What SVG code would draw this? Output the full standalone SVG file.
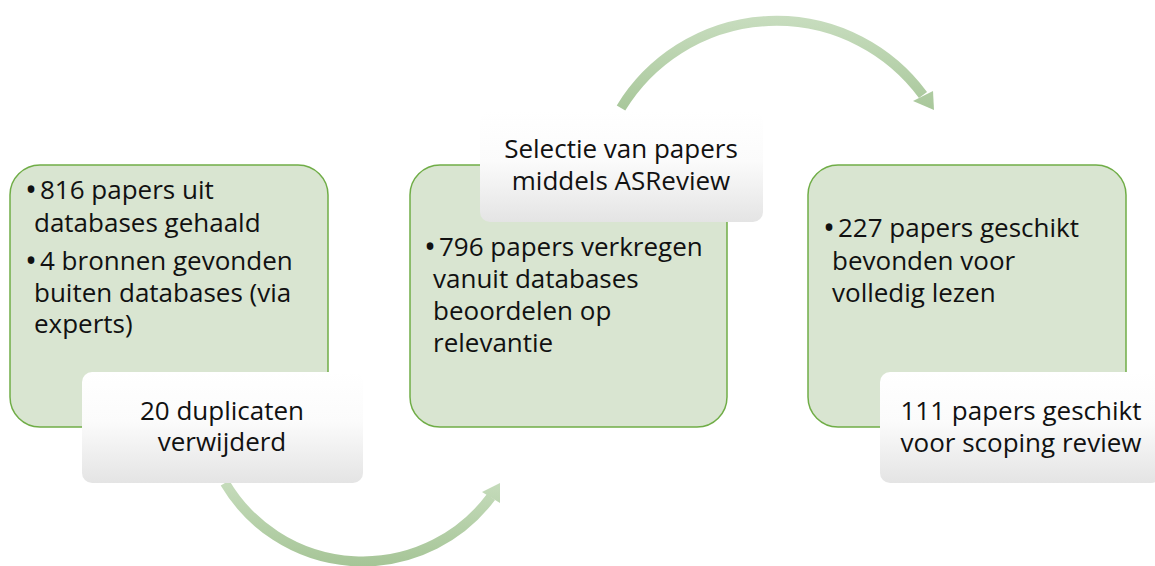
<svg xmlns="http://www.w3.org/2000/svg" width="1155" height="566" viewBox="0 0 1155 566">
<style>
.box{fill:#d9e5d1;stroke:#70ad47;stroke-width:1.5}
.lbl{fill:url(#wg)}
text{font-family:"Open Sans","Liberation Sans",sans-serif;font-size:26px;fill:#111}
.b{font-size:32px}
.c{text-anchor:middle}
</style>
<defs>
<linearGradient id="wg" x1="0" y1="0" x2="0" y2="1">
<stop offset="0" stop-color="#ffffff"/>
<stop offset="0.45" stop-color="#fbfbfb"/>
<stop offset="1" stop-color="#e4e4e4"/>
</linearGradient>
<linearGradient id="ag1" gradientUnits="userSpaceOnUse" x1="0" y1="15" x2="0" y2="112">
<stop offset="0" stop-color="#c8ddbf"/>
<stop offset="1" stop-color="#a8c79a"/>
</linearGradient>
<linearGradient id="ag2" gradientUnits="userSpaceOnUse" x1="0" y1="480" x2="0" y2="566">
<stop offset="0" stop-color="#c6dcbc"/>
<stop offset="1" stop-color="#a6c597"/>
</linearGradient>
</defs>
<g id="connectors">
<g id="arrow-top">
<path d="M 621 108 A 182 182 0 0 1 923 95" fill="none" stroke="url(#ag1)" stroke-width="10"/>
<polygon points="913,101 933,91 934,110" fill="url(#ag1)"/>
</g>
<g id="arrow-bottom">
<path d="M 225 483 A 160 160 0 0 0 491 497" fill="none" stroke="url(#ag2)" stroke-width="10"/>
<polygon points="482,492 500,483 500,503" fill="url(#ag2)"/>
</g>
</g>
<g id="node1">
<rect class="box" x="10" y="165" width="318" height="262" rx="30"/>
<text class="b" x="25" y="201">•</text>
<text x="40" y="199">816 papers uit</text>
<text x="34" y="232">databases gehaald</text>
<text class="b" x="25" y="272">•</text>
<text x="40" y="270">4 bronnen gevonden</text>
<text x="34" y="302">buiten databases (via</text>
<text x="34" y="333">experts)</text>
</g>
<g id="node2">
<rect class="box" x="410" y="165" width="317" height="262" rx="30"/>
<text class="b" x="424" y="258">•</text>
<text x="439" y="256">796 papers verkregen</text>
<text x="433" y="288">vanuit databases</text>
<text x="433" y="320">beoordelen op</text>
<text x="433" y="352">relevantie</text>
</g>
<g id="node3">
<rect class="box" x="808" y="165" width="318" height="262" rx="30"/>
<text class="b" x="823" y="239">•</text>
<text x="838" y="237">227 papers geschikt</text>
<text x="832" y="270">bevonden voor</text>
<text x="832" y="302">volledig lezen</text>
</g>
<g id="label1">
<rect class="lbl" x="82" y="372" width="281" height="111" rx="10"/>
<text class="c" x="222" y="420">20 duplicaten</text>
<text class="c" x="222" y="451">verwijderd</text>
</g>
<g id="label2">
<rect class="lbl" x="480" y="111" width="283" height="111" rx="10"/>
<text class="c" x="621" y="158">Selectie van papers</text>
<text class="c" x="621" y="190">middels ASReview</text>
</g>
<g id="label3">
<rect class="lbl" x="880" y="372" width="281" height="111" rx="10"/>
<text class="c" x="1021" y="420">111 papers geschikt</text>
<text class="c" x="1021" y="452">voor scoping review</text>
</g>
</svg>
